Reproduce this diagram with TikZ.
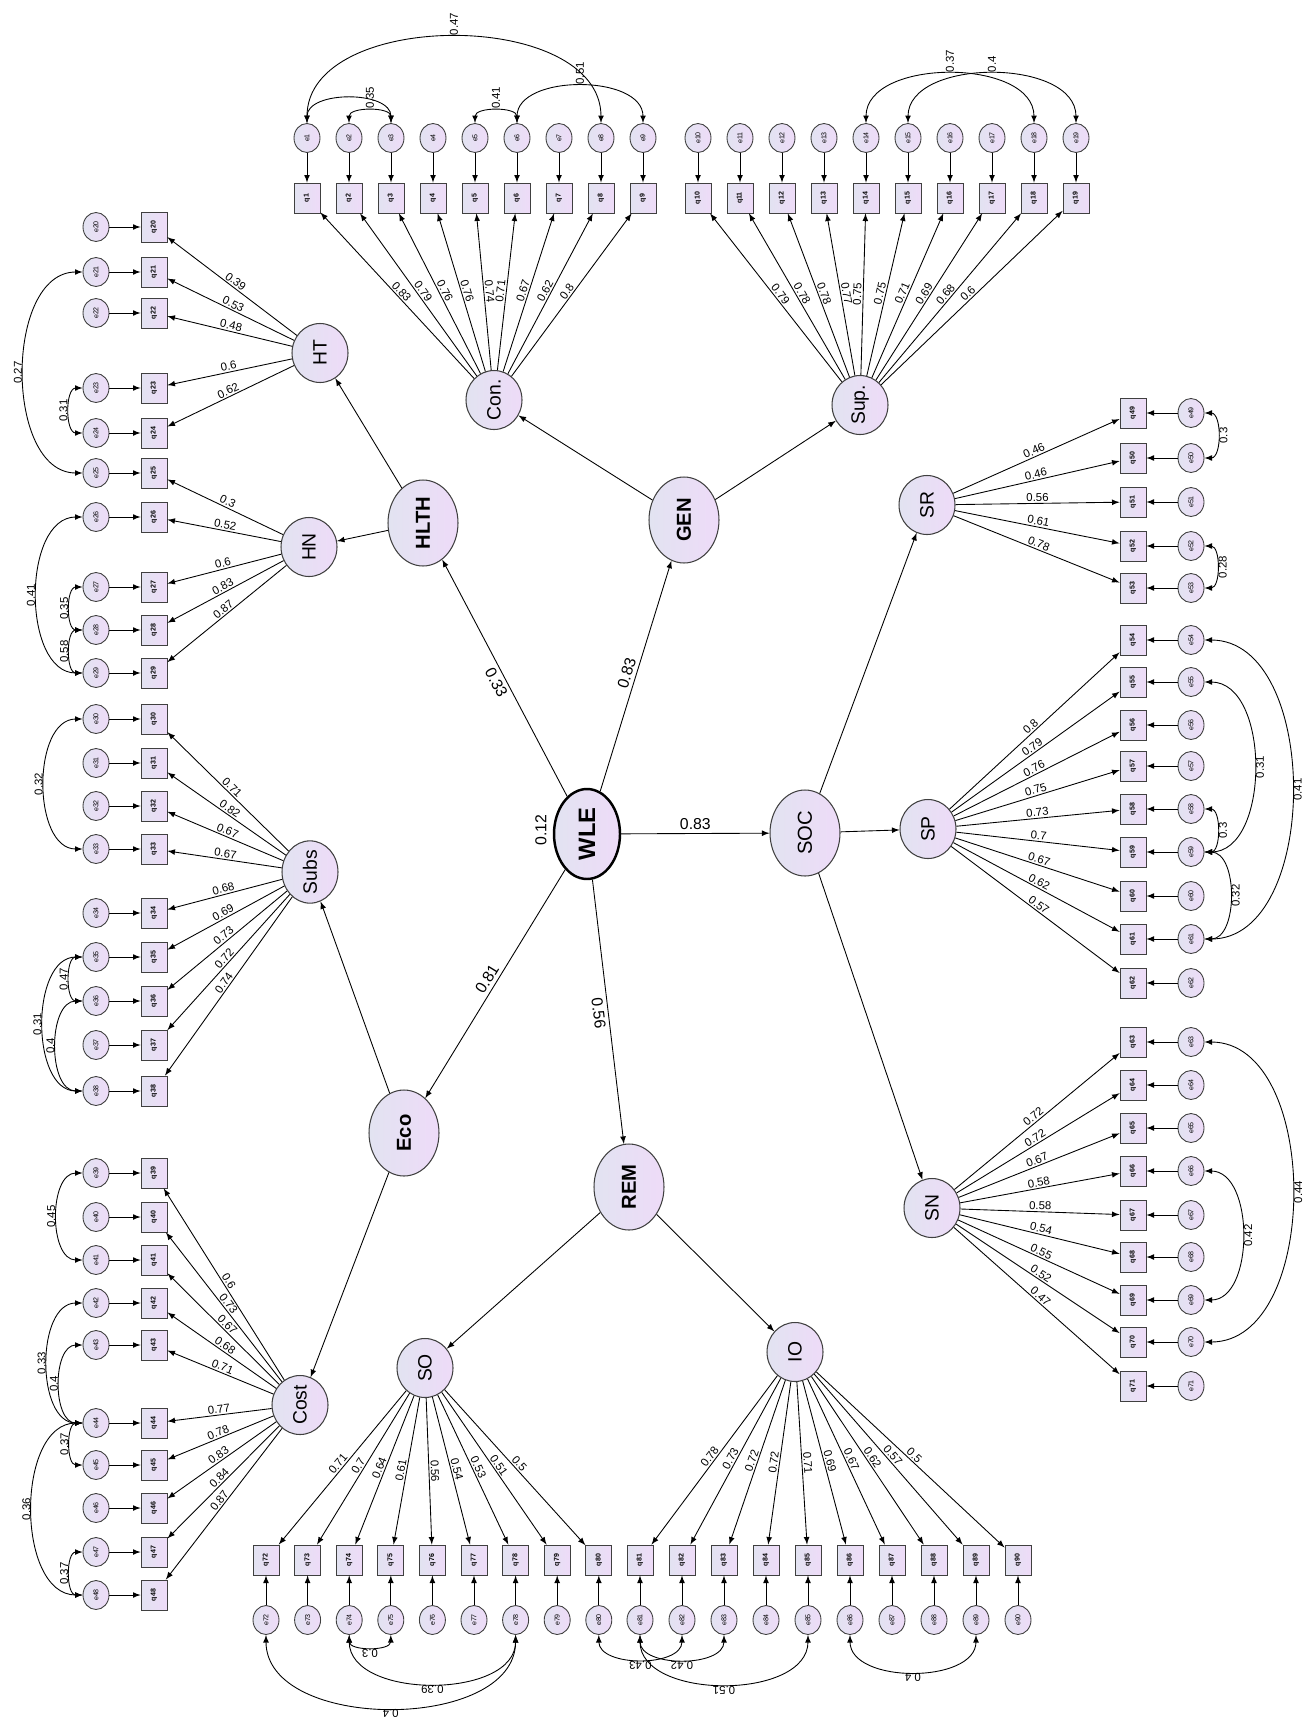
\documentclass[tikz,border=0pt]{standalone}
\usepackage{graphicx}
\usepackage{fontspec}
\setmainfont{Liberation Sans}
\usetikzlibrary{shapes.geometric}

\definecolor{lavpink}{RGB}{238,219,248}
\definecolor{lavgrey}{RGB}{226,227,241}

\newcommand*{\rt}[1]{\rotatebox{90}{#1}}
\newcommand*{\lerr}{96}
\newcommand*{\litem}{154}
\newcommand*{\ritem}{1133}
\newcommand*{\rerr}{1191}
\newcommand*{\titem}{198}
\newcommand*{\terr}{138}
\newcommand*{\bitem}{1560}
\newcommand*{\berr}{1620}

\begin{document}
\begin{tikzpicture}
[
	x=0.02cm, y=0.02cm, >=latex,
	lat/.style={ellipse,draw=black!75,line width=0.6pt,left color=lavgrey,right color=lavpink,inner sep=0pt,minimum width=1.12cm,minimum height=1.18cm,font=\fontsize{11}{11}\selectfont},
	hi/.style={lat,minimum width=1.4cm,minimum height=1.72cm,font=\bfseries\fontsize{11.5}{12}\selectfont},
	obs/.style={rectangle,draw=black!75,line width=0.5pt,left color=lavgrey,right color=lavpink,inner sep=0pt,minimum width=0.52cm,minimum height=0.6cm,font=\bfseries\fontsize{4}{4}\selectfont},
	err/.style={ellipse,draw=black!75,line width=0.5pt,left color=lavgrey,right color=lavpink,inner sep=0pt,minimum width=0.52cm,minimum height=0.58cm,font=\fontsize{4}{4}\selectfont},
	lab/.style={font=\fontsize{6.5}{6.5}\selectfont,inner sep=0.8pt},
	biglab/.style={font=\fontsize{9}{9}\selectfont,inner sep=2pt},
	tl/.style={lab,rotate=90,anchor=west},
	ll/.style={lab,rotate=90,anchor=south},
	rl/.style={lab,rotate=90,anchor=north},
	bl/.style={lab,rotate=180,anchor=south},
	pth/.style={->,line width=0.5pt},
	cov/.style={<->,line width=0.5pt}
]

	\useasboundingbox (0,0) rectangle (1315,-1724);

	% second order
	\node[hi,draw=black,line width=1.4pt,minimum width=1.32cm,minimum height=1.8cm,font=\bfseries\fontsize{13.5}{14}\selectfont] (wle) at (587,-834) {\rt{WLE}};
	\node[hi] (hlth) at (423,-523) {\rt{HLTH}};
	\node[hi] (gen) at (684,-520) {\rt{GEN}};
	\node[hi,font=\fontsize{11.5}{12}\selectfont] (soc) at (805,-833) {\rt{SOC}};
	\node[hi] (eco) at (404,-1133) {\rt{Eco}};
	\node[hi] (rem) at (629,-1187) {\rt{REM}};
	\node[biglab,rotate=90] (wler) at (541,-830) {0.12};

	% first order
	\node[lat] (con) at (494,-400) {\rt{Con.}};
	\node[lat] (sup) at (860,-405) {\rt{Sup.}};
	\node[lat] (ht) at (320,-353) {\rt{HT}};
	\node[lat] (hn) at (309,-547) {\rt{HN}};
	\node[lat] (subs) at (310,-872) {\rt{Subs}};
	\node[lat] (cost) at (300,-1405) {\rt{Cost}};
	\node[lat] (sr) at (927,-505) {\rt{SR}};
	\node[lat] (sp) at (928,-829) {\rt{SP}};
	\node[lat] (sn) at (932,-1208) {\rt{SN}};
	\node[lat] (so) at (425,-1368) {\rt{SO}};
	\node[lat] (io) at (795,-1352) {\rt{IO}};

	% structural paths
	\draw[pth] (wle) -- (hlth) node[biglab,pos=.5,sloped,below] {0.33};
	\draw[pth] (wle) -- (gen) node[biglab,pos=.5,sloped,above] {0.83};
	\draw[pth] (wle) -- (soc) node[biglab,pos=.5,above] {0.83};
	\draw[pth] (wle) -- (eco) node[biglab,pos=.5,sloped,above] {0.81};
	\draw[pth] (wle) -- (rem) node[biglab,pos=.5,sloped,below] {0.56};
	\draw[pth] (hlth) -- (ht);
	\draw[pth] (hlth) -- (hn);
	\draw[pth] (gen) -- (con);
	\draw[pth] (gen) -- (sup);
	\draw[pth] (soc) -- (sr);
	\draw[pth] (soc) -- (sp);
	\draw[pth] (soc) -- (sn);
	\draw[pth] (eco) -- (subs);
	\draw[pth] (eco) -- (cost);
	\draw[pth] (rem) -- (so);
	\draw[pth] (rem) -- (io);

	% con. items
	\foreach \v [count=\i, evaluate=\i as \x using 307+42*(\i-1)] in {0.83,0.79,0.76,0.76,0.74,0.71,0.67,0.62,0.8} {
		\node[obs] (cq\i) at (\x,-\titem) {\rt{q\i}};
		\node[err] (ce\i) at (\x,-\terr) {\rt{e\i}};
		\draw[pth] (ce\i) -- (cq\i);
		\draw[pth] (con) -- (cq\i) node[lab,pos=.5,sloped,above] {\v};
	}

	% sup. items
	\foreach \v [count=\i, evaluate=\i as \x using 698+42*(\i-1), evaluate=\i as \n using int(\i+9)] in {0.79,0.78,0.78,0.77,0.75,0.75,0.71,0.69,0.68,0.6} {
		\node[obs] (sq\i) at (\x,-\titem) {\rt{q\n}};
		\node[err] (se\i) at (\x,-\terr) {\rt{e\n}};
		\draw[pth] (se\i) -- (sq\i);
		\draw[pth] (sup) -- (sq\i) node[lab,pos=.5,sloped,above] {\v};
	}

	% ht items
	\foreach \y/\v [count=\i, evaluate=\i as \n using int(\i+19)] in {227/0.39,272/0.53,313/0.48,388/0.6,433/0.62} {
		\node[obs] (tq\i) at (\litem,-\y) {\rt{q\n}};
		\node[err] (te\i) at (\lerr,-\y) {\rt{e\n}};
		\draw[pth] (te\i) -- (tq\i);
		\draw[pth] (ht) -- (tq\i) node[lab,pos=.5,sloped,above] {\v};
	}

	% hn items
	\foreach \y/\v [count=\i, evaluate=\i as \n using int(\i+24)] in {473/0.3,517/0.52,587/0.6,630/0.83,673/0.87} {
		\node[obs] (nq\i) at (\litem,-\y) {\rt{q\n}};
		\node[err] (ne\i) at (\lerr,-\y) {\rt{e\n}};
		\draw[pth] (ne\i) -- (nq\i);
		\draw[pth] (hn) -- (nq\i) node[lab,pos=.5,sloped,above] {\v};
	}

	% subs items
	\foreach \y/\v [count=\i, evaluate=\i as \n using int(\i+29)] in {719/0.71,763/0.82,806/0.67,849/0.67,913/0.68,957/0.69,1001/0.73,1045/0.72,1091/0.74} {
		\node[obs] (bq\i) at (\litem,-\y) {\rt{q\n}};
		\node[err] (be\i) at (\lerr,-\y) {\rt{e\n}};
		\draw[pth] (be\i) -- (bq\i);
		\draw[pth] (subs) -- (bq\i) node[lab,pos=.5,sloped,above] {\v};
	}

	% cost items
	\foreach \y/\v [count=\i, evaluate=\i as \n using int(\i+38)] in {1173/0.6,1217/0.73,1260/0.67,1303/0.68,1345/0.71,1423/0.77,1465/0.78,1508/0.83,1552/0.84,1595/0.87} {
		\node[obs] (kq\i) at (\litem,-\y) {\rt{q\n}};
		\node[err] (ke\i) at (\lerr,-\y) {\rt{e\n}};
		\draw[pth] (ke\i) -- (kq\i);
		\draw[pth] (cost) -- (kq\i) node[lab,pos=.5,sloped,above] {\v};
	}

	% sr items
	\foreach \y/\v [count=\i, evaluate=\i as \n using int(\i+48)] in {413/0.46,458/0.46,502/0.56,546/0.61,588/0.78} {
		\node[obs] (rq\i) at (\ritem,-\y) {\rt{q\n}};
		\node[err] (re\i) at (\rerr,-\y) {\rt{e\n}};
		\draw[pth] (re\i) -- (rq\i);
		\draw[pth] (sr) -- (rq\i) node[lab,pos=.5,sloped,above] {\v};
	}

	% sp items
	\foreach \y/\v [count=\i, evaluate=\i as \n using int(\i+53)] in {640/0.8,682/0.79,725/0.76,766/0.75,809/0.73,852/0.7,896/0.67,939/0.62,983/0.57} {
		\node[obs] (pq\i) at (\ritem,-\y) {\rt{q\n}};
		\node[err] (pe\i) at (\rerr,-\y) {\rt{e\n}};
		\draw[pth] (pe\i) -- (pq\i);
		\draw[pth] (sp) -- (pq\i) node[lab,pos=.5,sloped,above] {\v};
	}

	% sn items
	\foreach \y/\v [count=\i, evaluate=\i as \n using int(\i+62)] in {1042/0.72,1085/0.72,1128/0.67,1171/0.58,1215/0.58,1257/0.54,1300/0.55,1342/0.52,1386/0.47} {
		\node[obs] (mq\i) at (\ritem,-\y) {\rt{q\n}};
		\node[err] (me\i) at (\rerr,-\y) {\rt{e\n}};
		\draw[pth] (me\i) -- (mq\i);
		\draw[pth] (sn) -- (mq\i) node[lab,pos=.5,sloped,above] {\v};
	}

	% so items
	\foreach \v [count=\i, evaluate=\i as \x using 266+41.6*(\i-1), evaluate=\i as \n using int(\i+71)] in {0.71,0.7,0.64,0.61,0.56,0.54,0.53,0.51,0.5} {
		\node[obs] (oq\i) at (\x,-\bitem) {\rt{q\n}};
		\node[err] (oe\i) at (\x,-\berr) {\rt{e\n}};
		\draw[pth] (oe\i) -- (oq\i);
		\draw[pth] (so) -- (oq\i) node[lab,pos=.5,sloped,above] {\v};
	}

	% io items
	\foreach \v [count=\i, evaluate=\i as \x using 640+42*(\i-1), evaluate=\i as \n using int(\i+80)] in {0.78,0.73,0.72,0.72,0.71,0.69,0.67,0.62,0.57,0.5} {
		\node[obs] (iq\i) at (\x,-\bitem) {\rt{q\n}};
		\node[err] (ie\i) at (\x,-\berr) {\rt{e\n}};
		\draw[pth] (ie\i) -- (iq\i);
		\draw[pth] (io) -- (iq\i) node[lab,pos=.5,sloped,above] {\v};
	}

	% correlated errors, top
	\draw[cov] (ce1) to[out=90,in=90] node[tl] {0.47} (ce8);
	\draw[cov] (ce1) to[out=90,in=90] (ce3);
	\draw[cov] (ce2) to[out=90,in=90] node[tl] {0.35} (ce3);
	\draw[cov] (ce5) to[out=90,in=90] node[tl] {0.41} (ce6);
	\draw[cov] (ce6) to[out=90,in=90] node[tl] {0.51} (ce9);
	\draw[cov] (se5) to[out=90,in=90] node[tl] {0.37} (se9);
	\draw[cov] (se6) to[out=90,in=90] node[tl] {0.4} (se10);

	% correlated errors, left
	\draw[cov] (te4) to[out=180,in=180] node[ll] {0.31} (te5);
	\draw[cov] (te2) to[out=180,in=180] node[ll] {0.27} (ne1);
	\draw[cov] (ne2) to[out=180,in=180] node[ll] {0.41} (ne5);
	\draw[cov] (ne3) to[out=180,in=180] node[ll] {0.35} (ne4);
	\draw[cov] (ne4) to[out=180,in=180] node[ll] {0.58} (ne5);
	\draw[cov] (be1) to[out=180,in=180] node[ll] {0.32} (be4);
	\draw[cov] (be6) to[out=180,in=180] node[ll] {0.47} (be7);
	\draw[cov] (be6) to[out=180,in=180] node[ll] {0.31} (be9);
	\draw[cov] (be7) to[out=180,in=180] node[ll] {0.4} (be9);
	\draw[cov] (ke1) to[out=180,in=180] node[ll] {0.45} (ke3);
	\draw[cov] (ke4) to[out=180,in=180] node[ll] {0.33} (ke6);
	\draw[cov] (ke5) to[out=180,in=180] node[ll] {0.4} (ke6);
	\draw[cov] (ke6) to[out=180,in=180] node[ll] {0.37} (ke7);
	\draw[cov] (ke6) to[out=180,in=180] node[ll] {0.36} (ke10);
	\draw[cov] (ke9) to[out=180,in=180] node[ll] {0.37} (ke10);

	% correlated errors, right
	\draw[cov] (re1) to[out=0,in=0] node[rl] {0.3} (re2);
	\draw[cov] (re4) to[out=0,in=0] node[rl] {0.28} (re5);
	\draw[cov] (pe1) to[out=0,in=0] node[rl] {0.41} (pe8);
	\draw[cov] (pe2) to[out=0,in=0] node[rl] {0.31} (pe6);
	\draw[cov] (pe5) to[out=0,in=0] node[rl] {0.3} (pe6);
	\draw[cov] (pe6) to[out=0,in=0] node[rl] {0.32} (pe8);
	\draw[cov] (me1) to[out=0,in=0] node[rl] {0.44} (me8);
	\draw[cov] (me4) to[out=0,in=0] node[rl] {0.42} (me7);

	% correlated errors, bottom
	\draw[cov] (oe1) to[out=-90,in=-90] node[bl] {0.4} (oe7);
	\draw[cov] (oe3) to[out=-90,in=-90] node[bl] {0.39} (oe7);
	\draw[cov] (oe3) to[out=-90,in=-90] node[bl] {0.3} (oe4);
	\draw[cov] (oe9) to[out=-90,in=-90] node[bl] {0.43} (ie2);
	\draw[cov] (ie1) to[out=-90,in=-90] node[bl] {0.42} (ie3);
	\draw[cov] (ie1) to[out=-90,in=-90] node[bl] {0.51} (ie5);
	\draw[cov] (ie6) to[out=-90,in=-90] node[bl] {0.4} (ie9);

\end{tikzpicture}
\end{document}
